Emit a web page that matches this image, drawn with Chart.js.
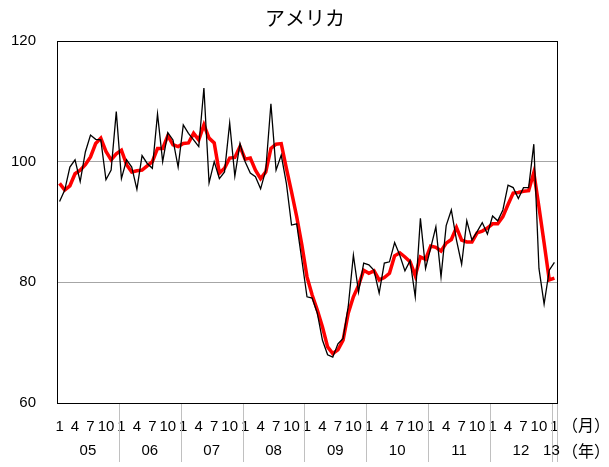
<!DOCTYPE html>
<html>
<head>
<meta charset="utf-8">
<script src="https://cdn.jsdelivr.net/npm/chart.js@4.4.1/dist/chart.umd.min.js"></script>
<style>
  html, body { margin: 0; padding: 0; background: #fff; }
  #wrap { width: 609px; height: 467px; }
</style>
</head>
<body>
<div id="wrap"><canvas id="c"></canvas></div>
<script>
const years = ['05', '06', '07', '08', '09', '10', '11', '12', '13'];
const monthTicks = [1, 4, 7, 10];
const yTicks = [60, 80, 100, 120];

// monthly index (thin black)
const monthly = [
  93.4, 95.3, 99.1, 100.3, 96.7, 101.6, 104.4, 103.7, 103.6, 97.0, 98.6, 108.3,
  97.2, 100.3, 99.1, 95.4, 101.0, 99.7, 98.9, 107.9, 100.0, 104.8, 103.6, 99.1,
  106.1, 104.7, 103.6, 102.5, 112.2, 96.5, 100.0, 97.2, 98.3, 106.4, 97.6, 103.0,
  100.0, 98.1, 97.5, 95.5, 98.6, 109.6, 98.6, 101.1, 96.4, 89.5, 89.7, 83.7,
  77.6, 77.4, 74.9, 70.4, 68.0, 67.6, 69.8, 70.7, 76.0, 84.5, 78.4, 83.2,
  82.9, 82.0, 78.2, 83.2, 83.4, 86.6, 84.5, 81.9, 83.6, 77.6, 90.6, 82.3,
  85.7, 89.2, 80.9, 89.4, 92.0, 87.0, 83.0, 90.2, 87.0, 88.4, 89.9, 88.0,
  91.0, 90.2, 92.0, 96.1, 95.7, 93.9, 95.7, 95.7, 102.9, 82.3, 76.4, 82.0,
  83.3
];

// 3-month average (thick red)
const average = [
  96.4, 95.3, 96.0, 98.0, 98.6, 99.5, 100.8, 103.0, 103.9, 101.7, 100.3, 101.3,
  101.9, 99.5, 98.3, 98.5, 98.6, 99.3, 100.0, 102.2, 102.2, 104.3, 102.8, 102.5,
  103.0, 103.1, 104.7, 103.6, 106.1, 103.9, 103.1, 98.1, 98.9, 100.6, 100.7, 102.5,
  100.4, 100.6, 98.6, 97.2, 98.3, 102.2, 102.9, 103.0, 98.9, 95.0, 90.9, 86.2,
  80.9, 77.9, 75.4, 72.6, 69.3, 68.2, 68.8, 70.4, 74.9, 77.6, 79.5, 82.0,
  81.5, 81.9, 80.4, 80.8, 81.5, 84.4, 84.9, 84.2, 83.4, 81.1, 84.2, 83.8,
  86.0, 85.8, 85.2, 86.5, 87.1, 89.1, 87.0, 86.7, 86.7, 88.2, 88.5, 89.0,
  89.7, 89.7, 90.9, 92.9, 94.8, 94.9, 95.1, 95.2, 98.2, 92.5, 86.5, 80.4,
  80.7
];

const labels = [];
years.forEach((y, k) => {
  const n = k < years.length - 1 ? 12 : 1;
  for (let m = 1; m <= n; m++) labels.push(y + '-' + m);
});

Chart.defaults.font.family = "'Liberation Sans', Arial, sans-serif";
Chart.defaults.color = '#000';

const frame = {
  id: 'frame',
  afterDraw(chart) {
    const { ctx, chartArea: a, scales: { x } } = chart;
    const half = (x.getPixelForValue(1) - x.getPixelForValue(0)) / 2;
    ctx.save();

    // year separators below the plot
    ctx.strokeStyle = '#c0c0c0';
    ctx.lineWidth = 1;
    const sep = (px) => {
      px = Math.round(px) + 0.5;
      ctx.beginPath();
      ctx.moveTo(px, a.bottom);
      ctx.lineTo(px, a.bottom + 59);
      ctx.stroke();
    };
    labels.forEach((l, i) => {
      if (i > 0 && l.endsWith('-1')) sep(x.getPixelForValue(i) - half);
    });
    sep(a.right);

    // plot frame
    ctx.strokeStyle = '#000';
    ctx.lineWidth = 1;
    ctx.strokeRect(Math.round(a.left) + 0.5, Math.round(a.top) + 0.5,
      Math.round(a.right - a.left), Math.round(a.bottom - a.top));

    // year labels
    ctx.fillStyle = '#000';
    ctx.font = "15px 'Liberation Sans', Arial, sans-serif";
    ctx.textAlign = 'center';
    ctx.textBaseline = 'middle';
    years.forEach((y) => {
      const idx = labels.map((l, i) => l.startsWith(y + '-') ? i : -1).filter(i => i >= 0);
      let cx = (x.getPixelForValue(idx[0]) + x.getPixelForValue(idx[idx.length - 1])) / 2;
      if (idx.length === 1) cx -= 3;
      ctx.fillText(y, cx, a.bottom + 48);
    });

    // unit labels
    ctx.font = "16px 'Noto Sans CJK JP', sans-serif";
    ctx.textAlign = 'left';
    ctx.fillText('（月）', a.right + 5, a.bottom + 22);
    ctx.fillText('（年）', a.right + 5, a.bottom + 48);

    // title
    ctx.font = "20px 'Noto Sans CJK JP', sans-serif";
    ctx.textAlign = 'center';
    ctx.fillText('アメリカ', (a.left + a.right) / 2 - 2, 18);
    ctx.restore();
  }
};

new Chart(document.getElementById('c'), {
  type: 'line',
  data: {
    labels: labels,
    datasets: [
      {
        data: monthly,
        borderColor: '#000',
        borderWidth: 1.3,
        pointRadius: 0,
        tension: 0,
        fill: false
      },
      {
        data: average,
        borderColor: '#ff0000',
        borderWidth: 3.5,
        pointRadius: 0,
        tension: 0,
        fill: false
      }
    ]
  },
  options: {
    responsive: true,
    maintainAspectRatio: false,
    animation: false,
    layout: { padding: { top: 41, right: 52, left: 0, bottom: 0 } },
    plugins: {
      legend: { display: false },
      tooltip: { enabled: false }
    },
    scales: {
      x: {
        offset: true,
        grid: { display: false },
        border: { display: false },
        afterFit(s) { s.height = 64; },
        ticks: {
          autoSkip: false,
          maxRotation: 0,
          minRotation: 0,
          padding: 7,
          font: { size: 15 },
          callback(v, i) {
            const m = +labels[i].split('-')[1];
            return monthTicks.includes(m) ? String(m) : '';
          }
        }
      },
      y: {
        min: yTicks[0],
        max: yTicks[yTicks.length - 1],
        afterFit(s) { s.width = 57; },
        afterBuildTicks(s) { s.ticks = yTicks.map(v => ({ value: v })); },
        border: { display: false },
        grid: {
          drawTicks: false,
          color: c => (c.tick && (c.tick.value === 80 || c.tick.value === 100)) ? '#a6a6a6' : 'transparent'
        },
        ticks: {
          padding: 21,
          font: { size: 15 }
        }
      }
    }
  },
  plugins: [frame]
});
</script>
</body>
</html>
